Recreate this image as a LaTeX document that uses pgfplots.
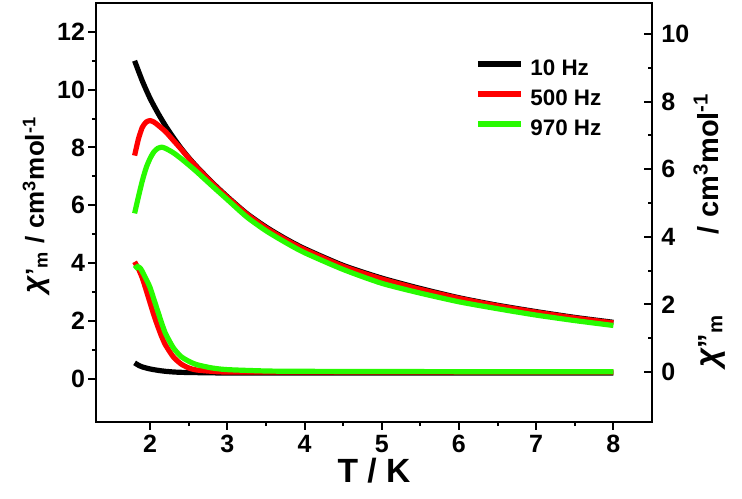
\documentclass[border=0pt]{standalone}
\usepackage{pgfplots}
\pgfplotsset{compat=1.18}
\usepackage{fontspec}
\setmainfont{Liberation Sans}
\definecolor{cred}{RGB}{255,0,0}
\definecolor{cgreen}{RGB}{40,250,0}
\newcommand{\chisym}{{\fontsize{15}{17}\selectfont\itshape χ}}
\newcommand{\chisymr}{{\fontsize{16.5}{18}\selectfont\itshape χ}}
\begin{document}
\begin{tikzpicture}
\pgfplotsset{
  common/.style={
    at={(0,0)}, anchor=south west, scale only axis,
    width=278pt, height=209.5pt,
    xmin=1.3, xmax=8.5,
    /pgf/number format/assume math mode=true,
    tick label style={font=\fontsize{12.5}{14}\selectfont\bfseries},
    axis line style={line width=1pt},
    major tick length=3.8pt, minor tick length=2pt,
    tick style={line width=1pt, black},
    every axis plot/.append style={line width=2.6pt, smooth, tension=0.4},
  }
}
\begin{axis}[common,
  ymin=-1.5, ymax=13,
  xtick={2,3,4,5,6,7,8}, ytick={0,2,4,6,8,10,12},
  minor x tick num=1, minor y tick num=1,
  xtick pos=left, ytick pos=left, tick align=outside,
  yticklabel style={inner sep=1.5pt},
  xticklabel style={inner sep=2.5pt},
  xlabel={T / K},
  xlabel style={font=\fontsize{16.8}{19}\selectfont\bfseries,
    at={(axis description cs:0.5,0)}, anchor=base, yshift=-30pt},
  ylabel={\chisym'\textsubscript{m}\hspace{0.3em}/\hspace{0.3em}cm\textsuperscript{3}mol\textsuperscript{-1}},
  ylabel style={font=\fontsize{13}{15}\selectfont\bfseries,
    at={([xshift=-26pt]axis description cs:0,0.518)}, anchor=base},
  legend style={at={(0.682,0.864)}, anchor=north west, draw=none, fill=none,
    inner sep=0pt, outer sep=0pt, row sep=5pt,
    font=\fontsize{11.2}{13}\selectfont\bfseries,
    nodes={inner sep=0pt, text height=8pt, text depth=2pt},
    /tikz/every odd column/.style={column sep=3.5pt}},
  legend cell align=left,
  legend image code/.code={\draw[#1] (0pt,3pt) -- (21.5pt,3pt);},
]
% chi' 10 Hz
\addplot[black] coordinates {
(1.8,11.0) (1.9,10.3) (2.0,9.7) (2.1,9.2) (2.2,8.75) (2.3,8.35) (2.4,7.98)
(2.5,7.65) (2.6,7.35) (2.8,6.8) (3.0,6.3) (3.25,5.72) (3.5,5.25) (3.75,4.85)
(4.0,4.5) (4.5,3.92) (5.0,3.48) (5.5,3.12) (6.0,2.8) (6.5,2.54) (7.0,2.32)
(7.5,2.12) (8.0,1.95)};
\addlegendentry{10 Hz}
% chi' 500 Hz
\addplot[cred] coordinates {
(1.8,7.72) (1.85,8.3) (1.9,8.7) (1.95,8.88) (2.0,8.93) (2.05,8.88) (2.1,8.78)
(2.2,8.55) (2.3,8.25) (2.4,7.95) (2.5,7.63) (2.6,7.33) (2.8,6.78) (3.0,6.28)
(3.25,5.7) (3.5,5.22) (3.75,4.82) (4.0,4.47) (4.5,3.89) (5.0,3.45) (5.5,3.09)
(6.0,2.78) (6.5,2.52) (7.0,2.3) (7.5,2.1) (8.0,1.93)};
\addlegendentry{500 Hz}
% chi' 970 Hz
\addplot[cgreen] coordinates {
(1.8,5.72) (1.85,6.3) (1.9,6.85) (1.95,7.3) (2.0,7.62) (2.05,7.85) (2.1,7.97)
(2.15,8.01) (2.2,7.97) (2.3,7.82) (2.4,7.62) (2.5,7.4) (2.6,7.17) (2.8,6.68)
(3.0,6.2) (3.25,5.6) (3.5,5.12) (3.75,4.72) (4.0,4.36) (4.5,3.78) (5.0,3.3)
(5.5,2.96) (6.0,2.66) (6.5,2.42) (7.0,2.2) (7.5,2.01) (8.0,1.84)};
\addlegendentry{970 Hz}
\end{axis}
\begin{axis}[common,
  ymin=-1.48, ymax=10.92,
  axis x line=none, axis y line*=right,
  ytick={0,2,4,6,8,10}, minor y tick num=1,
  tick align=inside,
  yticklabel style={inner sep=4.5pt},
  ylabel={\chisymr''\textsubscript{m}\hspace{40pt}/\hspace{0.3em}cm\textsuperscript{3}mol\textsuperscript{-1}},
  ylabel style={font=\fontsize{14.5}{16}\selectfont\bfseries,
    at={([xshift=33pt]axis description cs:1,0.458)}, anchor=base},
]
% chi'' 10 Hz
\addplot[black] coordinates {
(1.8,0.27) (1.85,0.2) (1.9,0.15) (2.0,0.09) (2.1,0.05) (2.2,0.02) (2.4,-0.01)
(3.0,-0.03) (4.0,-0.03) (6.0,-0.03) (8.0,-0.03)};
% chi'' 500 Hz
\addplot[cred] coordinates {
(1.8,3.26) (1.85,3.05) (1.9,2.78) (1.95,2.42) (2.0,2.05) (2.05,1.68) (2.1,1.35)
(2.15,1.05) (2.2,0.8) (2.3,0.45) (2.4,0.24) (2.5,0.12) (2.6,0.06) (2.8,0.02)
(3.0,0.0) (4.0,0.0) (6.0,0.0) (8.0,0.0)};
% chi'' 970 Hz
\addplot[cgreen] coordinates {
(1.8,3.05) (1.84,3.12) (1.88,3.05) (1.92,2.88) (1.96,2.7) (2.0,2.5) (2.05,2.15)
(2.1,1.8) (2.15,1.45) (2.2,1.14) (2.3,0.72) (2.4,0.46) (2.5,0.32) (2.6,0.22)
(2.8,0.12) (3.0,0.07) (3.5,0.03) (4.0,0.02) (6.0,0.01) (8.0,0.01)};
\end{axis}
\pgfresetboundingbox
\useasboundingbox (-48pt,-38pt) rectangle (323pt,211pt);
\end{tikzpicture}
\end{document}
